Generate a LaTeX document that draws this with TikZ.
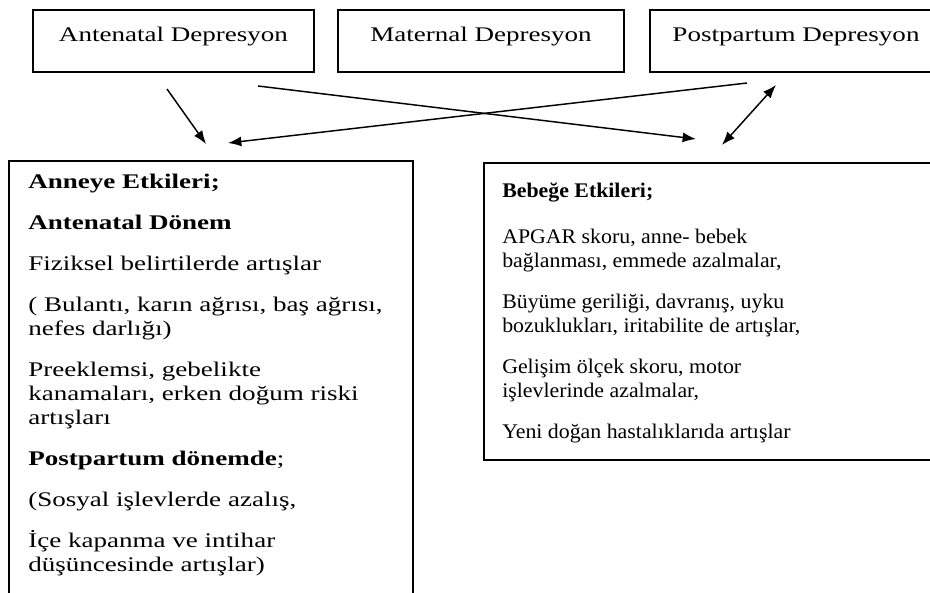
\documentclass[tikz,border=0pt]{standalone}
\usepackage{fontspec}
\setmainfont{Liberation Serif}[FakeStretch=1.3]
\newfontfamily\narrowserif{Liberation Serif}[FakeStretch=1.05]
\usetikzlibrary{arrows.meta}
\begin{document}
\begin{tikzpicture}[x=0.75pt,y=-0.75pt,
  txt/.style={font=\fontsize{15.6pt}{18pt}\selectfont},
  rtxt/.style={font=\narrowserif\fontsize{15.6pt}{18pt}\selectfont},
  topbox/.style={draw, line width=1.5pt, inner sep=0, txt, text height=5pt, text depth=5pt, minimum height=46.5pt},
  bigbox/.style={draw, line width=1.5pt, inner sep=0},
  ln/.style={anchor=base west, inner sep=0, txt},
  rln/.style={anchor=base west, inner sep=0, rtxt},
  arr/.style={line width=1.1pt, -{Latex[length=10pt,width=7.5pt]}},
  darr/.style={line width=1.1pt, {Latex[length=10pt,width=7.5pt]}-{Latex[length=10pt,width=7.5pt]}}]
\clip (0,0) rectangle (930,592);
\fill[white] (0,0) rectangle (930,592);
% top boxes
\node[topbox, minimum width=210.75pt] (ant) at (173.5,41) {Antenatal Depresyon};
\node[topbox, minimum width=214.5pt] (mat) at (481,41) {Maternal Depresyon};
\node[topbox, minimum width=219pt] (post) at (796,41) {Postpartum Depresyon};
% big boxes
\node[bigbox, minimum width=303pt, minimum height=344.25pt] (anne) at (211,390.5) {};
\node[bigbox, minimum width=343.5pt, minimum height=222.75pt] (bebek) at (713,311.5) {};
% left box text
\node[ln] (l1) at (28,188) {\textbf{Anneye Etkileri;}};
\node[ln] (l2) at (28,229) {\textbf{Antenatal Dönem}};
\node[ln] (l3) at (28,270) {Fiziksel belirtilerde artışlar};
\node[ln] (l4) at (28,311) {( Bulantı, karın ağrısı, baş ağrısı,};
\node[ln] (l5) at (28,335) {nefes darlığı)};
\node[ln] (l6) at (28,376) {Preeklemsi, gebelikte};
\node[ln] (l7) at (28,400) {kanamaları, erken doğum riski};
\node[ln] (l8) at (28,424) {artışları};
\node[ln] (l9) at (28,465) {\textbf{Postpartum dönemde};};
\node[ln] (l10) at (28,506) {(Sosyal işlevlerde azalış,};
\node[ln] (l11) at (28,547) {İçe kapanma ve intihar};
\node[ln] (l12) at (28,571) {düşüncesinde artışlar)};
% right box text
\node[rln] (r1) at (502,197) {\textbf{Bebeğe Etkileri;}};
\node[rln] (r2) at (502,243) {APGAR skoru, anne- bebek};
\node[rln] (r3) at (502,267) {bağlanması, emmede azalmalar,};
\node[rln] (r4) at (502,308) {Büyüme geriliği, davranış, uyku};
\node[rln] (r5) at (502,332) {bozuklukları, iritabilite de artışlar,};
\node[rln] (r6) at (502,373) {Gelişim ölçek skoru, motor};
\node[rln] (r7) at (502,397) {işlevlerinde azalmalar,};
\node[rln] (r8) at (502,438) {Yeni doğan hastalıklarıda artışlar};
% arrows
\coordinate (a1s) at (167,89); \coordinate (a1e) at (206,144);
\coordinate (a2s) at (258,86); \coordinate (a2e) at (696,139);
\coordinate (a3s) at (747,83); \coordinate (a3e) at (228,143);
\coordinate (a4s) at (722,145); \coordinate (a4e) at (776,85);
\draw[arr] (a1s) -- (a1e);
\draw[arr] (a2s) -- (a2e);
\draw[arr] (a3s) -- (a3e);
\draw[darr] (a4s) -- (a4e);
\end{tikzpicture}
\end{document}
